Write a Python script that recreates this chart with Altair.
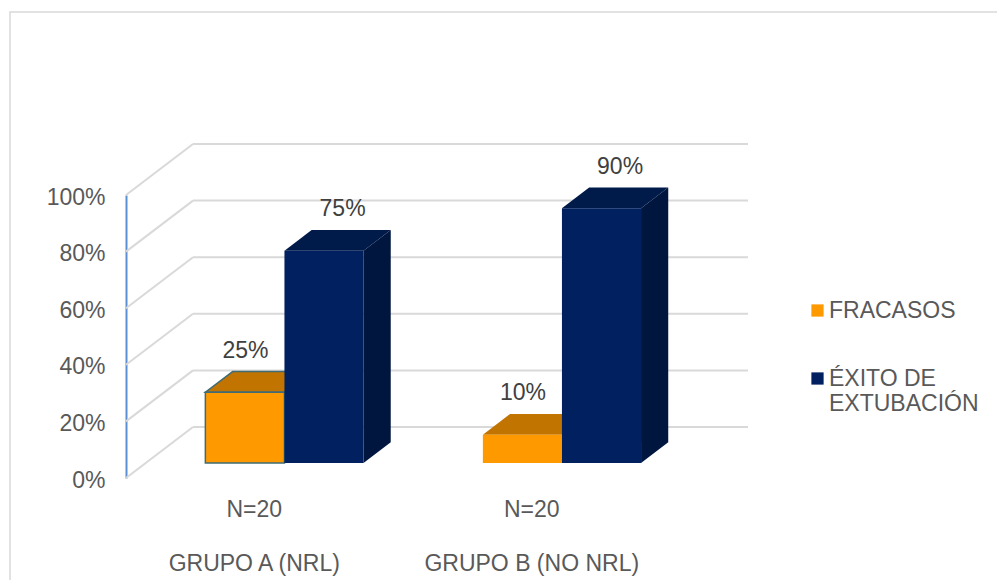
import altair as alt
import pandas as pd

# ---- data ----
categories = ["GRUPO A (NRL)", "GRUPO B (NO NRL)"]
n_values = [20, 20]
series = ["FRACASOS", "ÉXITO DE EXTUBACIÓN"]
fracasos = [0.25, 0.10]
exito = [0.75, 0.90]
y_ticks = [0.0, 0.2, 0.4, 0.6, 0.8, 1.0]

# ---- styling / 3D projection parameters ----
front_colors = ["#FF9900", "#002060"]
top_colors = ["#C27400", "#001A4A"]
side_colors = ["#C27400", "#00163F"]
label_dx = [-13, 5]
DXU = 67 / 277.5      # depth shift in x units (per full depth)
DYU = 51 / 283        # depth shift in y units (per full depth)
BAR_W = 0.285         # bar width in category units
D1, D2 = 0.294, 0.70  # bar front / back depth
FONT = "Liberation Sans"
FS = 23

values_by_series = [fracasos, exito]

x_label_expr = " : ".join(
    [f"datum.value == {i + 0.5} ? ['N={n_values[i]}', '{categories[i]}']" for i in range(len(categories))]
) + " : ''"

X_SCALE = alt.Scale(domain=[0, 2], nice=False, zero=False)
Y_SCALE = alt.Scale(domain=[0, 1], nice=False, zero=False)
X_AXIS = alt.Axis(values=[0.5, 1.5], labelExpr=x_label_expr, domain=False, ticks=False,
                  grid=False, labelFontSize=FS, labelColor="#595959", labelFont=FONT,
                  labelLineHeight=54, labelPadding=20, labelOffset=-11, labelLimit=400,
                  labelBaseline="top", title=None)
Y_AXIS = alt.Axis(values=y_ticks, format=".0%", domainColor="#5B8FD4", domainWidth=2,
                  ticks=False, grid=False, labelFontSize=FS, labelColor="#595959",
                  labelFont=FONT, labelPadding=21, labelOffset=2, labelBaseline="middle",
                  title=None)


def X(f="x"):
    return alt.X(f"{f}:Q", scale=X_SCALE, axis=X_AXIS)


def Y(f="y"):
    return alt.Y(f"{f}:Q", scale=Y_SCALE, axis=Y_AXIS)


# ---- back wall and side wall grid ----
grid_rows = []
for v in y_ticks:
    grid_rows.append({"x": DXU, "x2": 2 + DXU, "y": v + DYU, "y2": v + DYU})
    grid_rows.append({"x": 0, "x2": DXU, "y": v, "y2": v + DYU})
grid_df = pd.DataFrame(grid_rows)

grid = alt.Chart(grid_df).mark_rule(color="#D9D9D9", strokeWidth=2).encode(
    x=X(), x2="x2:Q", y=Y(), y2="y2:Q"
)

layers = [grid]

for j, s in enumerate(series):
    front_rows, lab_rows = [], []
    faces = []
    for i, c in enumerate(categories):
        v = values_by_series[j][i]
        left0 = i + 0.5 + (j - 1) * BAR_W
        right0 = left0 + BAR_W
        front_rows.append({"cat": c, "series": s,
                           "x": left0 + D1 * DXU, "x2": right0 + D1 * DXU,
                           "y": D1 * DYU, "y2": v + D1 * DYU})
        top_rows = [{"y": v + d * DYU, "x": left0 + d * DXU, "x2": right0 + d * DXU} for d in (D1, D2)]
        side_rows = [{"x": right0 + d * DXU, "y": d * DYU, "y2": v + d * DYU} for d in (D1, D2)]
        outlined = (j == 0 and i == 0)
        faces.append(
            alt.Chart(pd.DataFrame(side_rows)).mark_area(
                orient="vertical", fill=side_colors[j]
            ).encode(x=X(), y=Y(), y2="y2:Q")
        )
        faces.append(
            alt.Chart(pd.DataFrame(top_rows)).mark_area(
                orient="horizontal", fill=top_colors[j],
                stroke="#3E6B74", strokeWidth=1.5 if outlined else 0
            ).encode(y=Y(), x=X(), x2="x2:Q")
        )
        lab_rows.append({"cat": c, "x": (left0 + right0) / 2 + (D1 + D2) / 2 * DXU,
                         "y": v + (D1 + D2) / 2 * DYU, "label": f"{round(v * 100)}%"})

    outline = alt.condition(alt.datum.cat == categories[0], alt.value(1.5 if j == 0 else 0), alt.value(0))

    front = alt.Chart(pd.DataFrame(front_rows)).mark_rect(stroke="#3E6B74").encode(
        x=X(), x2="x2:Q", y=Y(), y2="y2:Q",
        color=alt.Color("series:N",
                        scale=alt.Scale(domain=series, range=front_colors),
                        legend=alt.Legend(
                            orient="none", legendX=680, legendY=104, title=None,
                            symbolType="square", symbolSize=150, symbolStrokeWidth=0,
                            labelFontSize=FS, labelColor="#595959", labelFont=FONT,
                            labelExpr="datum.label == 'ÉXITO DE EXTUBACIÓN' ? ['ÉXITO DE', 'EXTUBACIÓN'] : datum.label",
                            rowPadding=44, labelOffset=0,
                            labelLimit=300)),
        strokeWidth=outline,
    )
    labels = alt.Chart(pd.DataFrame(lab_rows)).mark_text(
        fontSize=FS, font=FONT, color="#404040", dy=-31, dx=label_dx[j], baseline="middle"
    ).encode(x=X(), y=Y(), text="label:N")
    layers += faces + [front, labels]

frame = alt.Chart(pd.DataFrame({"a": [0]})).mark_rect(
    fill=None, stroke="#D9D9D9", strokeWidth=1.5
).encode(x=alt.value(-116), y=alt.value(-183), x2=alt.value(880), y2=alt.value(400))

chart = alt.layer(frame, *layers).properties(
    width=555, height=283,
    autosize=alt.AutoSizeParams(type="none"),
    padding={"left": 126, "top": 195, "right": 316, "bottom": 102},
    background="white",
).configure_view(strokeWidth=0)

chart.save("out.html", embed_options={"renderer": "svg", "actions": False})
